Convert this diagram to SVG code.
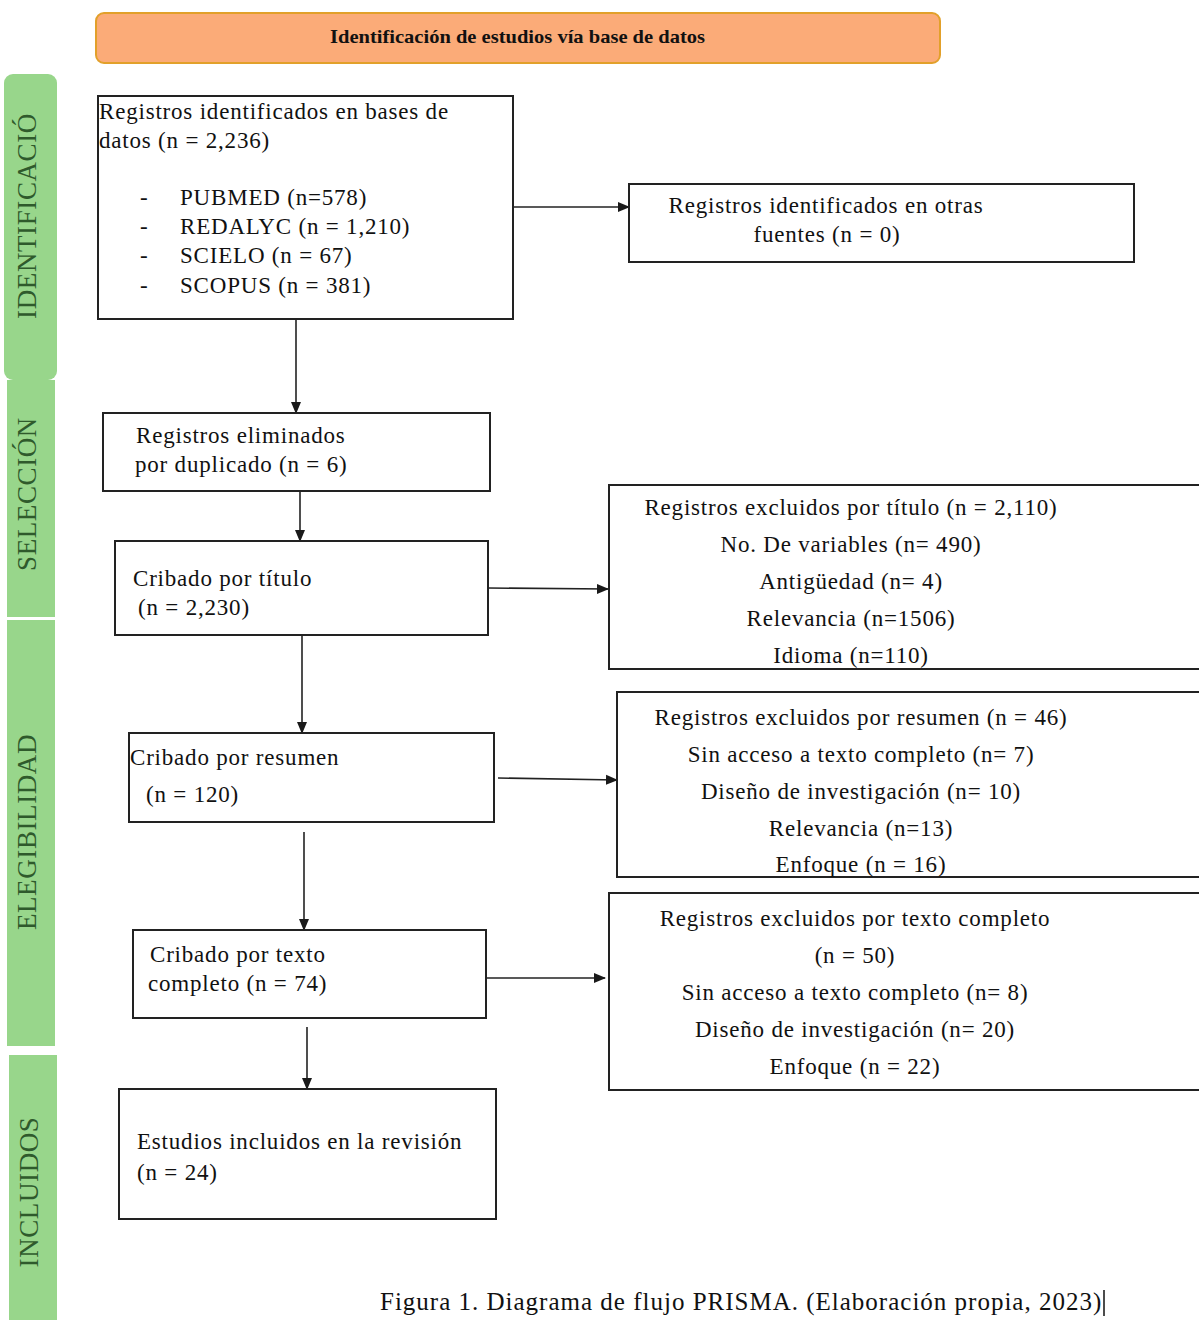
<svg xmlns="http://www.w3.org/2000/svg" width="1199" height="1320" viewBox="0 0 1199 1320">
<defs>
<marker id="ah" markerWidth="12" markerHeight="12" refX="11" refY="6" orient="auto" markerUnits="userSpaceOnUse">
<path d="M0,1 L12,6 L0,11 Z" fill="#1a1a1a"/>
</marker>
<style>
.box{fill:#fff;stroke:#222;stroke-width:2}
.t{font-family:"Liberation Serif","Times New Roman",serif;font-size:23px;letter-spacing:0.8px;fill:#111}
.c{text-anchor:middle}
.lane{fill:#98D68B}
.lt{font-family:"Liberation Serif","Times New Roman",serif;font-size:27px;letter-spacing:0.6px;fill:#2F5A2C;text-anchor:middle}
.con{stroke:#222;stroke-width:1.6;fill:none;marker-end:url(#ah)}
</style>
</defs>
<rect width="1199" height="1320" fill="#fff"/>

<g id="lanes">
<g id="lane-identificacion">
<rect class="lane" x="4" y="74" width="53" height="306" rx="9"/>
<text class="lt" transform="translate(36,216) rotate(-90)">IDENTIFICACIÓ</text>
</g>
<g id="lane-seleccion">
<rect class="lane" x="7" y="380" width="48" height="237"/>
<text class="lt" transform="translate(36,494) rotate(-90)">SELECCIÓN</text>
</g>
<g id="lane-elegibilidad">
<rect class="lane" x="7" y="620" width="48" height="426"/>
<text class="lt" transform="translate(36,832) rotate(-90)">ELEGIBILIDAD</text>
</g>
<g id="lane-incluidos">
<rect class="lane" x="9" y="1055" width="48" height="270"/>
<text class="lt" transform="translate(38,1192) rotate(-90)">INCLUIDOS</text>
</g>
</g>

<g id="header">
<rect x="96" y="13" width="844" height="50" rx="8" fill="#FBAB78" stroke="#E2A02A" stroke-width="2"/>
<text x="330" y="43" textLength="375" lengthAdjust="spacingAndGlyphs" font-family="'Liberation Serif','Times New Roman',serif" font-size="19" font-weight="bold" fill="#111">Identificación de estudios vía base de datos</text>
</g>

<g id="connectors">
<line class="con" x1="513" y1="207" x2="629" y2="207"/>
<line class="con" x1="296" y1="308" x2="296" y2="413"/>
<line class="con" x1="300" y1="485" x2="300" y2="541"/>
<line class="con" x1="488" y1="588" x2="608" y2="589"/>
<line class="con" x1="302" y1="635" x2="302" y2="733"/>
<line class="con" x1="498" y1="778" x2="617" y2="780"/>
<line class="con" x1="304" y1="832" x2="304" y2="930"/>
<line class="con" x1="486" y1="978" x2="605" y2="978"/>
<line class="con" x1="307" y1="1027" x2="307" y2="1089"/>
</g>

<g id="n-identificados">
<rect class="box" x="98" y="96" width="415" height="223"/>
<text class="t" x="99" y="119">Registros identificados en bases de</text>
<text class="t" x="99" y="148">datos (n = 2,236)</text>
<text class="t" x="140" y="205">-</text><text class="t" x="180" y="205">PUBMED (n=578)</text>
<text class="t" x="140" y="234">-</text><text class="t" x="180" y="234">REDALYC (n = 1,210)</text>
<text class="t" x="140" y="263">-</text><text class="t" x="180" y="263">SCIELO (n = 67)</text>
<text class="t" x="140" y="293">-</text><text class="t" x="180" y="293">SCOPUS (n = 381)</text>
</g>

<g id="n-otras">
<rect class="box" x="629" y="184" width="505" height="78"/>
<text class="t c" x="826" y="213">Registros identificados en otras</text>
<text class="t c" x="827" y="242">fuentes (n = 0)</text>
</g>

<g id="n-duplicados">
<rect class="box" x="103" y="413" width="387" height="78"/>
<text class="t" x="136" y="443">Registros eliminados</text>
<text class="t" x="135" y="472">por duplicado (n = 6)</text>
</g>

<g id="n-titulo">
<rect class="box" x="115" y="541" width="373" height="94"/>
<text class="t" x="133" y="586">Cribado por título</text>
<text class="t" x="138" y="615">(n = 2,230)</text>
</g>

<g id="n-excl-titulo">
<rect class="box" x="609" y="485" width="600" height="184"/>
<text class="t c" x="851" y="515">Registros excluidos por título (n = 2,110)</text>
<text class="t c" x="851" y="552">No. De variables (n= 490)</text>
<text class="t c" x="851" y="589">Antigüedad (n= 4)</text>
<text class="t c" x="851" y="626">Relevancia (n=1506)</text>
<text class="t c" x="851" y="663">Idioma (n=110)</text>
</g>

<g id="n-resumen">
<rect class="box" x="129" y="733" width="365" height="89"/>
<text class="t" x="130" y="765">Cribado por resumen</text>
<text class="t" x="146" y="802">(n = 120)</text>
</g>

<g id="n-excl-resumen">
<rect class="box" x="617" y="692" width="592" height="185"/>
<text class="t c" x="861" y="725">Registros excluidos por resumen (n = 46)</text>
<text class="t c" x="861" y="762">Sin acceso a texto completo (n= 7)</text>
<text class="t c" x="861" y="799">Diseño de investigación (n= 10)</text>
<text class="t c" x="861" y="836">Relevancia (n=13)</text>
<text class="t c" x="861" y="872">Enfoque (n = 16)</text>
</g>

<g id="n-texto">
<rect class="box" x="133" y="930" width="353" height="88"/>
<text class="t" x="150" y="962">Cribado por texto</text>
<text class="t" x="148" y="991">completo (n = 74)</text>
</g>

<g id="n-excl-texto">
<rect class="box" x="609" y="893" width="600" height="197"/>
<text class="t c" x="855" y="926">Registros excluidos por texto completo</text>
<text class="t c" x="855" y="963">(n = 50)</text>
<text class="t c" x="855" y="1000">Sin acceso a texto completo (n= 8)</text>
<text class="t c" x="855" y="1037">Diseño de investigación (n= 20)</text>
<text class="t c" x="855" y="1074">Enfoque (n = 22)</text>
</g>

<g id="n-incluidos">
<rect class="box" x="119" y="1089" width="377" height="130"/>
<text class="t" x="137" y="1149">Estudios incluidos en la revisión</text>
<text class="t" x="137" y="1180">(n = 24)</text>
</g>

<g id="caption">
<text x="380" y="1310" font-family="'Liberation Serif','Times New Roman',serif" font-size="25" letter-spacing="1" fill="#111">Figura 1. Diagrama de flujo PRISMA. (Elaboración propia, 2023)</text>
<line x1="1104" y1="1290" x2="1104" y2="1316" stroke="#111" stroke-width="1.5"/>
</g>
</svg>
